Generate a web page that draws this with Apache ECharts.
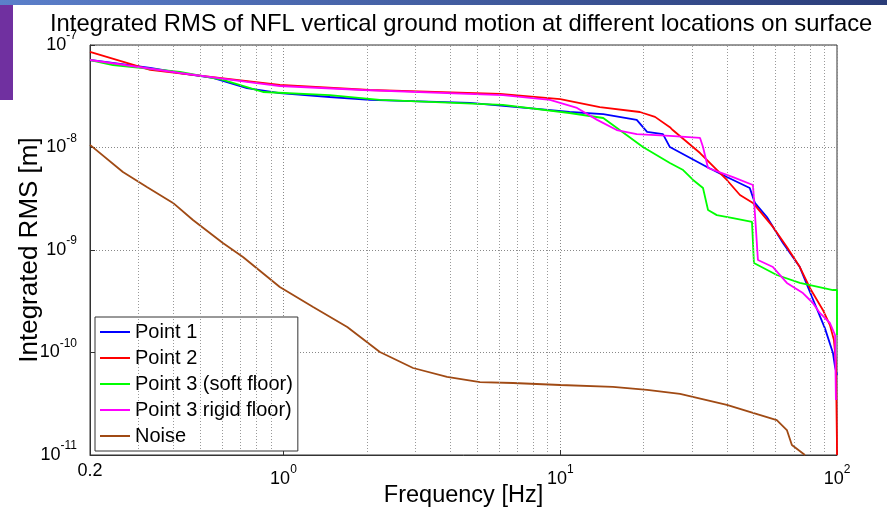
<!DOCTYPE html>
<html>
<head>
<meta charset="utf-8">
<script src="https://cdn.jsdelivr.net/npm/echarts@6/dist/echarts.min.js"></script>
<style>
html, body { margin: 0; padding: 0; background: #fff; }
#container { width: 887px; height: 514px; }
</style>
</head>
<body>
<div id="container"></div>
<script>
var titleText = 'Integrated RMS of NFL vertical ground motion at different locations on surface';
var seriesNames = ['Point 1', 'Point 2', 'Point 3 (soft floor)', 'Point 3 rigid floor)', 'Noise'];
var seriesColors = ['#0000ff', '#ff0000', '#00ff00', '#ff00ff', '#a04a14'];

// frequency [Hz] / integrated rms [m]
var point1Freq = [0.2, 0.33, 0.423, 0.556, 0.738, 0.97, 1.47, 2.05, 4.72, 8.24, 10.8, 14.3, 18.9, 20.6, 23.5, 24.9, 33.9, 40.0, 48.4, 50.5, 55.8, 63.8, 73.4, 81.2, 90.4, 96.7, 98.4, 100];
var point1Rms = [7.14e-8, 5.97e-8, 5.33e-8, 4.77e-8, 3.80e-8, 3.40e-8, 3.11e-8, 2.91e-8, 2.72e-8, 2.38e-8, 2.22e-8, 2.12e-8, 1.86e-8, 1.42e-8, 1.35e-8, 1.01e-8, 6.46e-9, 5.15e-9, 4.03e-9, 2.88e-9, 2.10e-9, 1.17e-9, 6.82e-10, 3.48e-10, 1.73e-10, 9.89e-11, 7.22e-11, 6.03e-11];

var point2Freq = [0.2, 0.33, 0.97, 2.05, 6.06, 10, 13.9, 19.4, 22.0, 24.9, 25.5, 32.0, 40.0, 44.6, 49.7, 58.7, 65.9, 73.4, 79.8, 88.9, 94.3, 97.5, 99.1, 99.9, 100];
var point2Rms = [8.55e-8, 5.71e-8, 4.07e-8, 3.64e-8, 3.33e-8, 2.97e-8, 2.48e-8, 2.22e-8, 1.99e-8, 1.58e-8, 1.48e-8, 8.83e-9, 4.82e-9, 3.44e-9, 2.88e-9, 1.68e-9, 1.07e-9, 6.82e-10, 4.26e-10, 2.60e-10, 1.85e-10, 1.32e-10, 7.90e-11, 1.50e-11, 1e-11];

var point3SoftFreq = [0.2, 0.242, 0.423, 0.604, 0.738, 0.843, 1.47, 2.23, 6.21, 10.8, 14.3, 16.4, 19.9, 24.9, 27.8, 30.2, 32.8, 34.2, 36.8, 42.1, 49.3, 50.1, 60.6, 73.4, 96.7, 100, 100];
var point3SoftRms = [7.14e-8, 6.38e-8, 5.46e-8, 4.56e-8, 3.89e-8, 3.48e-8, 3.25e-8, 2.91e-8, 2.60e-8, 2.17e-8, 1.94e-8, 1.48e-8, 1.01e-8, 7.06e-9, 6.03e-9, 4.82e-9, 4.03e-9, 2.46e-9, 2.19e-9, 2.05e-9, 1.88e-9, 7.46e-10, 5.70e-10, 4.77e-10, 4.07e-10, 4.07e-10, 1.48e-10];

var point3RigidFreq = [0.2, 0.423, 0.738, 0.97, 1.94, 6.21, 9.18, 11.5, 13.6, 16.0, 18.9, 24.9, 32.0, 32.8, 34.2, 42.1, 49.7, 50.5, 51.8, 58.7, 65.9, 75.3, 81.8, 86.7, 94.3, 98.4, 99.1];
var point3RigidRms = [7.14e-8, 5.33e-8, 4.36e-8, 3.98e-8, 3.64e-8, 3.25e-8, 2.91e-8, 2.43e-8, 1.86e-8, 1.48e-8, 1.35e-8, 1.30e-8, 1.24e-8, 1.01e-8, 6.31e-9, 5.15e-9, 4.31e-9, 2.30e-9, 7.98e-10, 6.82e-10, 4.77e-10, 3.80e-10, 3.04e-10, 2.43e-10, 1.94e-10, 1.48e-10, 3.44e-11];

var noiseFreq = [0.2, 0.263, 0.321, 0.399, 0.471, 0.604, 0.714, 0.97, 1.28, 1.70, 2.23, 2.94, 3.90, 5.13, 6.75, 10, 15.5, 20.6, 27.1, 40.0, 49.7, 60.6, 65.9, 68.7, 76.6];
var noiseRms = [1.06e-8, 5.77e-9, 4.12e-9, 2.88e-9, 1.96e-9, 1.17e-9, 8.55e-10, 4.36e-10, 2.78e-10, 1.77e-10, 1.01e-10, 7.06e-11, 5.77e-11, 5.15e-11, 5.04e-11, 4.82e-11, 4.61e-11, 4.31e-11, 3.94e-11, 3.08e-11, 2.57e-11, 2.19e-11, 1.75e-11, 1.25e-11, 1e-11];

// minor grid positions (log axes)
var minorFreqTicks = [0.3, 0.4, 0.5, 0.6, 0.7, 0.8, 0.9, 2, 3, 4, 5, 6, 7, 8, 9, 20, 30, 40, 50, 60, 70, 80, 90];
var minorRmsTicks = [];
[1e-11, 1e-10, 1e-9, 1e-8].forEach(function (d) {
    for (var k = 2; k <= 9; k++) minorRmsTicks.push(k * d);
});

var font = 'Liberation Sans, Arial, sans-serif';

function pairs(f, v) {
    return f.map(function (x, i) { return [x, v[i]]; });
}

function powLabel(value) {
    var e = Math.round(Math.log10(value));
    if (Math.abs(Math.pow(10, e) - value) / value > 1e-6) {
        return '{p|' + (Math.round(value * 10) / 10) + '}';
    }
    return '{b|10}{s|' + e + '}';
}

var labelRich = {
    b: { fontFamily: font, fontSize: 18, lineHeight: 30, color: '#000' },
    s: { fontFamily: font, fontSize: 12, verticalAlign: 'top', color: '#000' },
    p: { fontFamily: font, fontSize: 18, lineHeight: 15, color: '#000' }
};

var dataList = [
    pairs(point1Freq, point1Rms),
    pairs(point2Freq, point2Rms),
    pairs(point3SoftFreq, point3SoftRms),
    pairs(point3RigidFreq, point3RigidRms),
    pairs(noiseFreq, noiseRms)
];

var series = [{
    type: 'line',
    name: 'grid',
    data: [],
    silent: true,
    z: 1,
    markLine: {
        silent: true,
        animation: false,
        symbol: ['none', 'none'],
        label: { show: false },
        lineStyle: { color: '#999', type: [1, 2], width: 1 },
        data: minorFreqTicks.map(function (v) { return { xAxis: v }; })
            .concat(minorRmsTicks.map(function (v) { return { yAxis: v }; }))
    }
}];

for (var i = 0; i < seriesNames.length; i++) {
    series.push({
        name: seriesNames[i],
        type: 'line',
        data: dataList[i],
        symbol: 'none',
        showSymbol: false,
        z: 3,
        lineStyle: { color: seriesColors[i], width: 1.8 },
        itemStyle: { color: seriesColors[i] }
    });
}

var dom = document.getElementById('container');
var myChart = echarts.init(dom);

myChart.setOption({
    animation: false,
    backgroundColor: '#fff',
    graphic: [
        {
            type: 'rect', silent: true,
            shape: { x: 0, y: 0, width: 887, height: 5 },
            style: {
                fill: new echarts.graphic.LinearGradient(0, 0, 1, 0, [
                    { offset: 0, color: '#5b7fca' },
                    { offset: 1, color: '#2a3c78' }
                ])
            }
        },
        {
            type: 'rect', silent: true,
            shape: { x: 0, y: 5, width: 13, height: 95 },
            style: { fill: '#7030a0' }
        }
    ],
    title: {
        text: titleText,
        left: 50,
        top: 12,
        padding: 0,
        textStyle: { fontFamily: font, fontSize: 23.8, fontWeight: 'normal', color: '#000' }
    },
    grid: {
        left: 90, right: 50, top: 45, bottom: 59,
        outerBoundsMode: 'none',
        containLabel: false,
        show: true, borderColor: '#333', borderWidth: 1, backgroundColor: '#fff'
    },
    legend: {
        orient: 'vertical',
        left: 95,
        top: 317,
        padding: [4, 5, 4, 5],
        itemGap: 4,
        itemWidth: 30,
        itemHeight: 2,
        icon: 'rect',
        backgroundColor: '#fff',
        borderColor: '#333',
        borderWidth: 1,
        textStyle: { fontFamily: font, fontSize: 20, lineHeight: 22, color: '#000' },
        data: seriesNames
    },
    xAxis: {
        type: 'log',
        logBase: 10,
        min: 0.2,
        max: 100,
        name: 'Frequency [Hz]',
        nameLocation: 'middle',
        nameGap: 29,
        nameMoveOverlap: false,
        nameTextStyle: { fontFamily: font, fontSize: 23.5, color: '#000' },
        axisLine: { show: true, lineStyle: { color: '#333' } },
        axisTick: { show: true, inside: true, length: 5, lineStyle: { color: '#333' } },
        axisLabel: {
            margin: 9,
            showMinLabel: true,
            showMaxLabel: true,
            formatter: powLabel,
            rich: labelRich
        },
        splitLine: { show: true, lineStyle: { color: '#888', type: [1, 2], width: 1 } }
    },
    yAxis: {
        type: 'log',
        logBase: 10,
        min: 1e-11,
        max: 1e-7,
        name: 'Integrated RMS [m]',
        nameLocation: 'middle',
        nameGap: 47,
        nameMoveOverlap: false,
        nameTextStyle: { fontFamily: font, fontSize: 26, color: '#000' },
        axisLine: { show: true, lineStyle: { color: '#333' } },
        axisTick: { show: true, inside: true, length: 5, lineStyle: { color: '#333' } },
        axisLabel: {
            margin: 13,
            showMinLabel: true,
            showMaxLabel: true,
            formatter: powLabel,
            rich: labelRich
        },
        splitLine: { show: true, lineStyle: { color: '#888', type: [1, 2], width: 1 } }
    },
    series: series
});
</script>
</body>
</html>
